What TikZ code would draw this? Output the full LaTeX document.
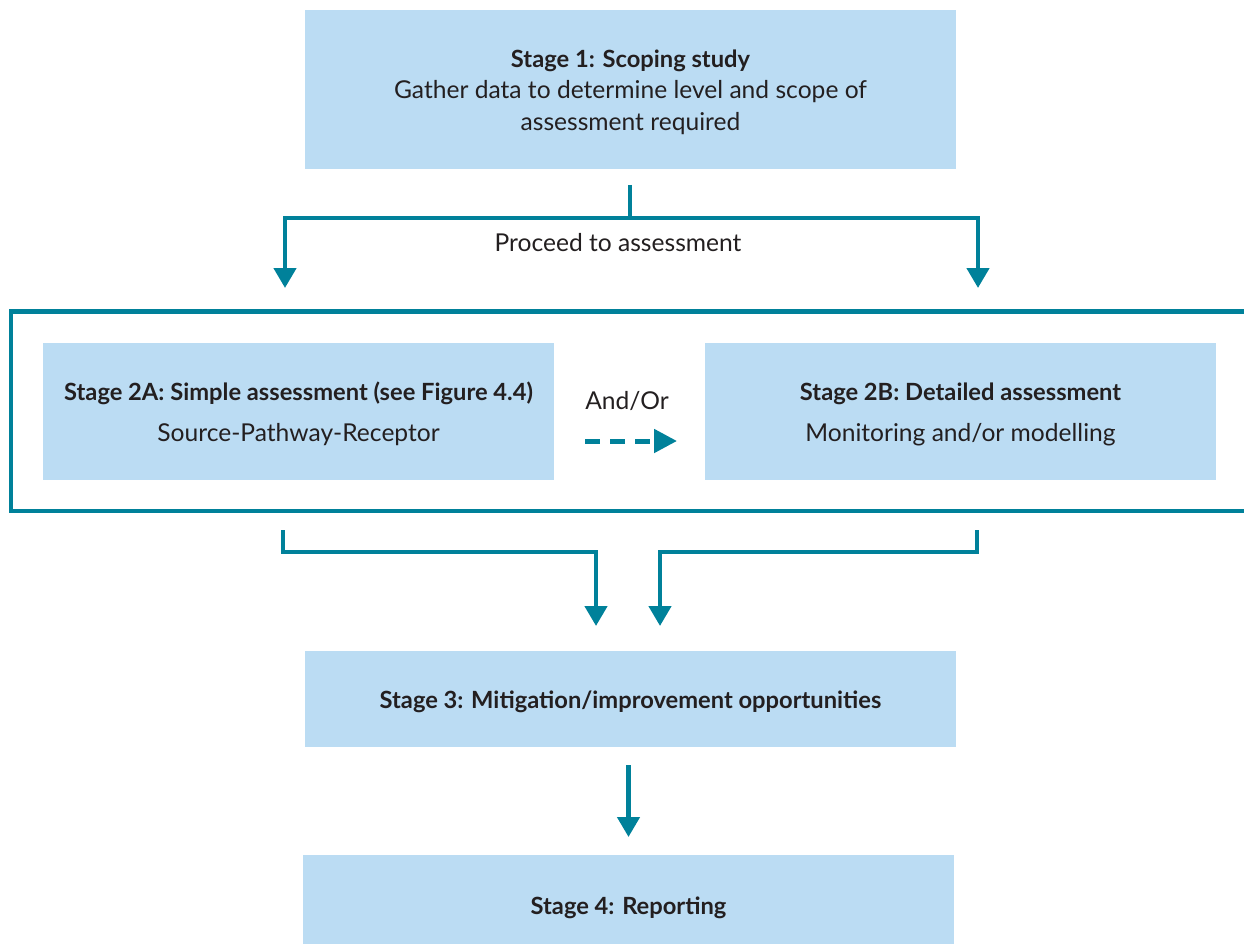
\documentclass[tikz,border=0pt]{standalone}
\usepackage{fontspec}
\setmainfont{Lato}
\usetikzlibrary{arrows.meta}
\definecolor{boxblue}{HTML}{BBDCF3}
\definecolor{tealc}{HTML}{00819A}
\definecolor{txt}{HTML}{231F20}
\newcommand{\ttl}[1]{{\fontsize{23.7}{32}\selectfont\bfseries #1}}
\begin{document}
\begin{tikzpicture}[x=1pt,y=-1pt,
  box/.style={fill=boxblue, draw=none, minimum width=651pt, inner sep=0pt},
  box2/.style={box, minimum width=511pt, minimum height=137pt},
  btxt/.style={align=center, inner sep=0pt, text=txt, font=\fontsize{24.6}{32}\selectfont},
  stem/.style={draw=tealc, line width=4.5pt},
  frame/.style={draw=tealc, line width=4.3pt},
  conn/.style={stem, -{Triangle[width=22pt,length=20pt]}},
  dconn/.style={draw=tealc, line width=5pt, dash pattern=on 15pt off 10pt, -{Triangle[width=23pt,length=23pt]}},
  lbl/.style={text=txt, font=\fontsize{24.6}{32}\selectfont, inner sep=0pt}]
\useasboundingbox (0,0) rectangle (1244,944);

\node[box, minimum height=159pt] (s1) at (630.5,89.5) {};
\node[btxt] (t1) at ([yshift=-2.5pt]s1.center)
  {\ttl{Stage 1: Scoping study}\\[-1pt]Gather data to determine level and scope of\\assessment required};

\draw[frame] (1250,311.5) -- (11,311.5) -- (11,511) -- (1250,511);

\node[box2] (s2a) at (298.5,411.5) {};
\node[btxt] (t2a) at ([yshift=-2.5pt]s2a.center)
  {\ttl{Stage 2A: Simple assessment (see Figure 4.4)}\\[9pt]Source-Pathway-Receptor};
\node[box2] (s2b) at (960.5,411.5) {};
\node[btxt] (t2b) at ([yshift=-2.5pt]s2b.center)
  {\ttl{Stage 2B: Detailed assessment}\\[9pt]Monitoring and/or modelling};

\node[box, minimum height=96pt] (s3) at (630.5,699) {};
\node[btxt] (t3) at ([yshift=-2.5pt]s3.center)
  {\ttl{Stage 3: Mitigation/improvement opportunities}};
\node[box, minimum height=100pt] (s4) at (628.5,905) {};
\node[btxt] (t4) at ([yshift=-2.5pt]s4.center)
  {\ttl{Stage 4: Reporting}};

% stage 1 to stage 2
\coordinate (j0) at (630,185);
\coordinate (j1) at (630,218);
\coordinate (a1) at (285,288);
\coordinate (a2) at (978,288);
\draw[stem] (j0) -- (j1);
\draw[conn] (j1) -| (a1);
\draw[conn] (j1) -| (a2);
\node[lbl] (proc) at (618,243) {Proceed to assessment};

% and/or
\node[lbl] (andor) at (627,401) {And/Or};
\coordinate (d1) at (585,441);
\coordinate (d2) at (677,441);
\draw[dconn] (d1) -- (d2);

% stage 2 to stage 3
\coordinate (b1) at (283,530);
\coordinate (b2) at (977,530);
\coordinate (c1) at (596,626);
\coordinate (c2) at (660,626);
\draw[conn] (b1) |- (596,552) -- (c1);
\draw[conn] (b2) |- (660,552) -- (c2);

% stage 3 to stage 4
\coordinate (e0) at (628.5,765);
\coordinate (e1) at (628.5,837);
\draw[conn] (e0) -- (e1);
\end{tikzpicture}
\end{document}
